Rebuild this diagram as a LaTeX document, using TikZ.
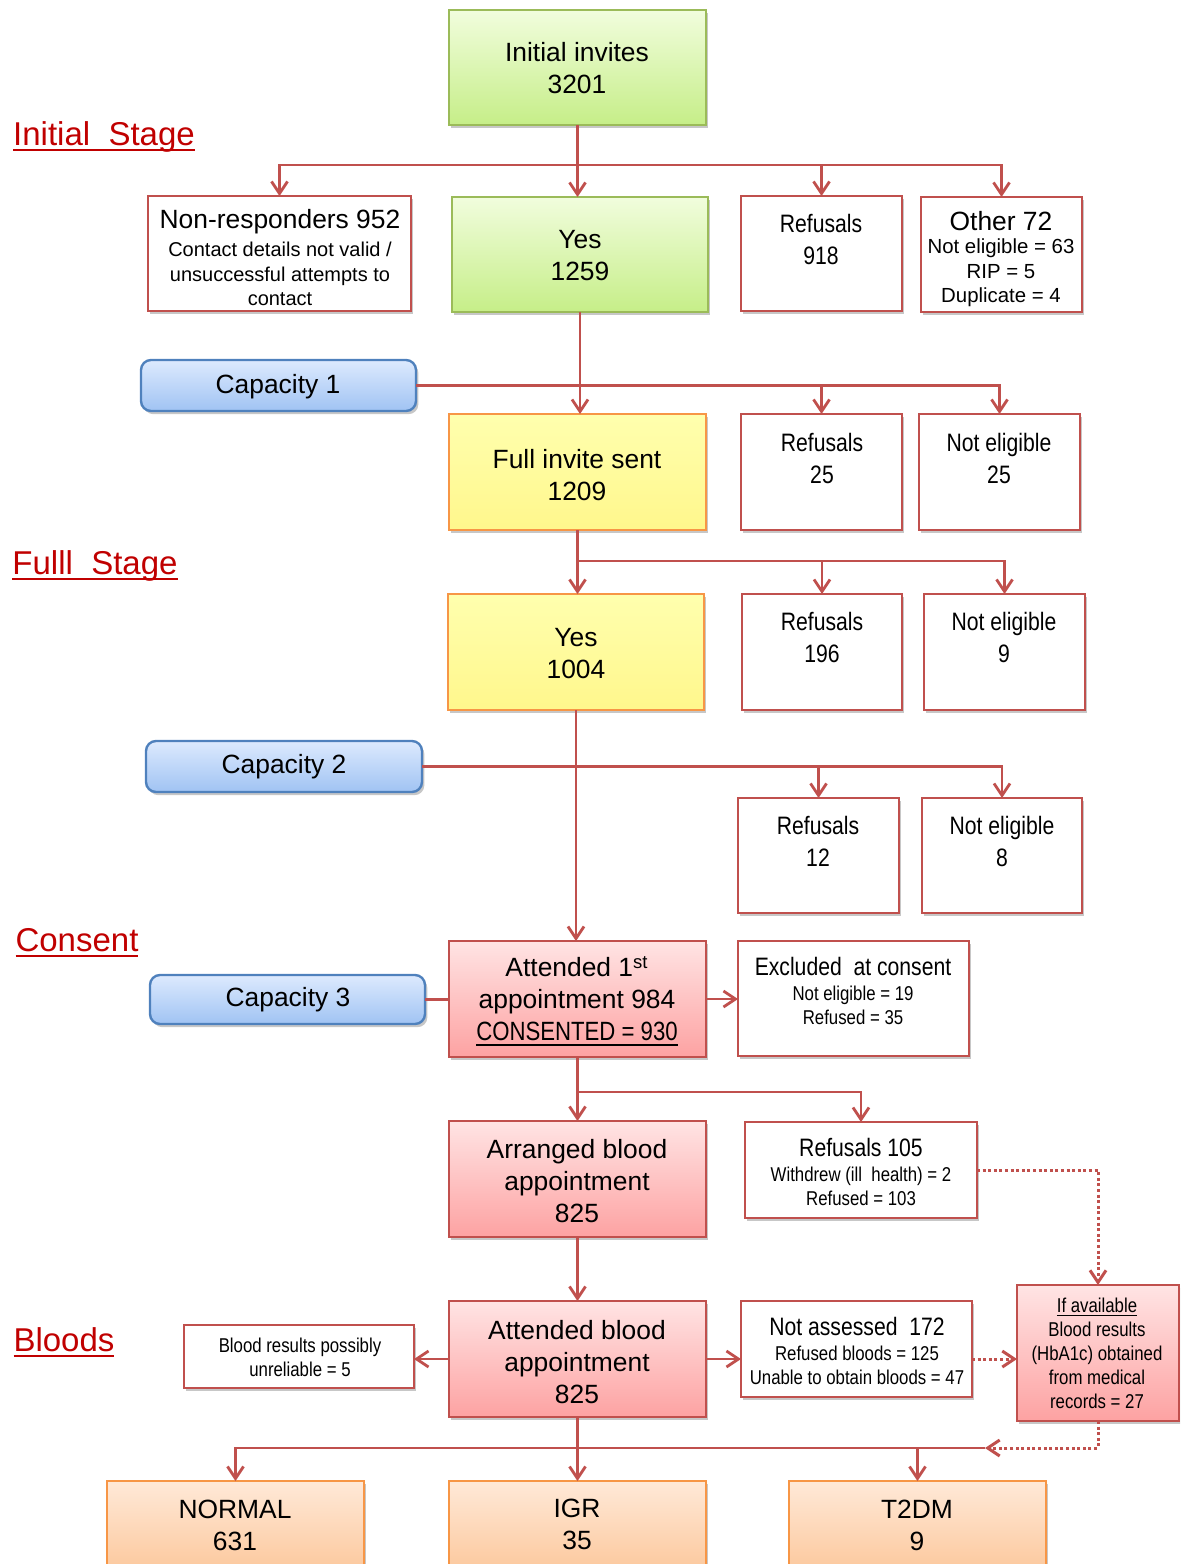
\documentclass[tikz,border=0pt]{standalone}
\usepackage{fontspec}
\setmainfont{Liberation Sans}
\newfontfamily\narrowfont{Liberation Sans}[FakeStretch=0.84]
\usetikzlibrary{arrows.meta,shadows,fit,calc}

% underline with a chosen depth (#1) and thickness (#2)
\newsavebox\ulbox
\newcommand\ulined[3]{\sbox\ulbox{#3}\rlap{\rule[-#1]{\wd\ulbox}{#2}}\usebox\ulbox}

\definecolor{lnred}{HTML}{C0504D}
\definecolor{grnB}{HTML}{9BBB59}
\definecolor{grnT}{HTML}{F1FDDD}
\definecolor{grnD}{HTML}{C6EE88}
\definecolor{yelB}{HTML}{F79646}
\definecolor{yelT}{HTML}{FFFFAE}
\definecolor{yelD}{HTML}{FFF78C}
\definecolor{redT}{HTML}{FFE4E4}
\definecolor{redD}{HTML}{FDA2A2}
\definecolor{bluB}{HTML}{4F81BD}
\definecolor{bluT}{HTML}{DDEAFE}
\definecolor{bluD}{HTML}{A0C3F3}
\definecolor{orgT}{HTML}{FFE9D8}
\definecolor{orgD}{HTML}{FBBE8A}
\definecolor{labred}{HTML}{C00000}

\newcommand\txbig{\fontsize{13.2}{16}\selectfont}
\newcommand\txnbig{\narrowfont\fontsize{12.6}{16}\selectfont}
\newcommand\txsmall{\fontsize{10}{12.2}\selectfont}
\newcommand\txnsmall{\narrowfont\fontsize{10}{12}\selectfont}

\tikzset{
  boxbase/.style={inner sep=0pt, outer sep=0pt, line width=1.2pt,
    drop shadow={shadow xshift=1.2pt, shadow yshift=-1.6pt, opacity=0.22, fill=black}},
  whitebox/.style={boxbase, draw=lnred, fill=white},
  greenbox/.style={boxbase, draw=grnB, top color=grnT, bottom color=grnD},
  yellowbox/.style={boxbase, draw=yelB, top color=yelT, bottom color=yelD},
  redbox/.style={boxbase, draw=lnred, top color=redT, bottom color=redD},
  orangebox/.style={boxbase, draw=yelB, top color=orgT, bottom color=orgD},
  capbox/.style={boxbase, draw=bluB, rounded corners=5pt, top color=bluT, bottom color=bluD},
  tx/.style={inner sep=0pt, align=center, font=\txbig},
  txn/.style={inner sep=0pt, align=center, font=\txnbig},
  txs/.style={inner sep=0pt, align=center, font=\txsmall},
  txns/.style={inner sep=0pt, align=center, font=\txnsmall},
  stagelab/.style={inner sep=0pt, text=labred, font=\fontsize{16.5}{20}\selectfont},
  ln/.style={draw=lnred, line width=1.4pt},
  arr/.style={ln, -{Straight Barb[length=6pt,width=8pt]}},
  dotln/.style={draw=lnred, line width=1.5pt, dash pattern=on 1.5pt off 1.3pt},
  dotarr/.style={dotln, -{Straight Barb[length=6pt,width=8pt]}},
}

\begin{document}
\begin{tikzpicture}[x=0.5pt,y=-0.5pt]
\useasboundingbox (0,0) rectangle (1180,1564);
\clip (0,0) rectangle (1180,1564);

% ---- stage headings
\node[stagelab] (lInit) at (104,137) {\ulined{2.6pt}{1pt}{Initial\ \ Stage}};
\node[stagelab] (lFull) at (95,566) {\ulined{2.6pt}{1pt}{Fulll\ \ Stage}};
\node[stagelab] (lCons) at (77,943) {\ulined{2.6pt}{1pt}{Consent}};
\node[stagelab] (lBlood) at (64,1342) {\ulined{2.6pt}{1pt}{Bloods}};

% ---- initial stage
\node[greenbox, fit={(449,10) (706,125)}] (inv) {};
\node[tx] (t-inv) at (577,68) {Initial invites\\3201};

\node[whitebox, fit={(148,196) (411,311)}] (nonr) {};
\node[tx] (t-nonr) at (280,222) {Non-responders 952};
\node[txs] (t-nonr2) at (280,274) {Contact details not valid /\\unsuccessful attempts to\\contact};

\node[greenbox, fit={(452,197) (708,312)}] (yes1) {};
\node[tx] (t-yes1) at (580,256) {Yes\\1259};

\node[whitebox, fit={(741,196) (902,311)}] (ref1) {};
\node[txn] (t-ref1) at (821,239) {Refusals\\918};

\node[whitebox, fit={(921,197) (1082,312)}] (oth) {};
\node[tx] (t-oth) at (1001,221) {Other 72};
\node[txs, font=\fontsize{10.2}{12.2}\selectfont] (t-oth2) at (1001,273) {Not eligible = 63\\RIP = 5\\Duplicate = 4};

% ---- capacity 1 / full invite
\node[capbox, fit={(141,360) (416,411)}] (cap1) {};
\node[tx] (t-cap1) at (278,387) {Capacity 1};

\node[yellowbox, fit={(449,414) (706,530)}] (full) {};
\node[tx] (t-full) at (577,475) {Full invite sent\\1209};

\node[whitebox, fit={(741,414) (902,530)}] (ref2) {};
\node[txn] (t-ref2) at (822,458) {Refusals\\25};

\node[whitebox, fit={(919,414) (1080,530)}] (ne2) {};
\node[txn] (t-ne2) at (999,458) {Not eligible\\25};

% ---- full stage
\node[yellowbox, fit={(448,594) (704,710)}] (yes2) {};
\node[tx] (t-yes2) at (576,654) {Yes\\1004};

\node[whitebox, fit={(742,594) (902,710)}] (ref3) {};
\node[txn] (t-ref3) at (822,637) {Refusals\\196};

\node[whitebox, fit={(924,594) (1085,710)}] (ne3) {};
\node[txn] (t-ne3) at (1004,637) {Not eligible\\9};

\node[capbox, fit={(146,741) (422,792)}] (cap2) {};
\node[tx] (t-cap2) at (284,767) {Capacity 2};

\node[whitebox, fit={(738,798) (899,913)}] (ref4) {};
\node[txn] (t-ref4) at (818,841) {Refusals\\12};

\node[whitebox, fit={(922,798) (1082,913)}] (ne4) {};
\node[txn] (t-ne4) at (1002,841) {Not eligible\\8};

% ---- consent
\node[redbox, fit={(449,941) (706,1057)}] (att1) {};
\node[tx] (t-att1) at (577,1001) {Attended 1\textsuperscript{st}\\appointment 984\\{\narrowfont\ulined{2.4pt}{0.9pt}{CONSENTED = 930}}};

\node[capbox, fit={(150,975) (425,1024)}] (cap3) {};
\node[tx] (t-cap3) at (288,1000) {Capacity 3};

\node[whitebox, fit={(738,941) (969,1056)}] (excl) {};
\node[txn] (t-excl) at (853,966) {Excluded\ \ at consent};
\node[txns] (t-excl2) at (853,1005) {Not eligible = 19\\Refused = 35};

\node[redbox, fit={(449,1121) (706,1237)}] (arrb) {};
\node[tx] (t-arrb) at (577,1181) {Arranged blood\\appointment\\825};

\node[whitebox, fit={(745,1122) (977,1218)}] (ref5) {};
\node[txn] (t-ref5) at (861,1147) {Refusals 105};
\node[txns] (t-ref52) at (861,1186) {Withdrew (ill\ \ health) = 2\\Refused = 103};

% ---- bloods
\node[redbox, fit={(449,1301) (706,1417)}] (attb) {};
\node[tx] (t-attb) at (577,1362) {Attended blood\\appointment\\825};

\node[whitebox, fit={(184,1325) (414,1388)}] (unrel) {};
\node[txns] (t-unrel) at (300,1357) {Blood results possibly\\unreliable = 5};

\node[whitebox, fit={(741,1301) (972,1397)}] (notas) {};
\node[txn] (t-notas) at (857,1326) {Not assessed\ \ 172};
\node[txns] (t-notas2) at (857,1365) {Refused bloods = 125\\Unable to obtain bloods = 47};

\node[redbox, fit={(1017,1285) (1179,1421)}] (ifav) {};
\node[txns] (t-ifav) at (1097,1353) {\ulined{2pt}{0.7pt}{If available}\\Blood results\\(HbA1c) obtained\\from medical\\records = 27};

\node[orangebox, fit={(107,1481) (364,1600)}] (norm) {};
\node[tx] (t-norm) at (235,1525) {NORMAL\\631};

\node[orangebox, fit={(449,1481) (706,1600)}] (igr) {};
\node[tx] (t-igr) at (577,1524) {IGR\\35};

\node[orangebox, fit={(789,1481) (1046,1600)}] (t2dm) {};
\node[tx] (t-t2dm) at (917,1525) {T2DM\\9};

% ---- junction points
\coordinate (j1) at (inv.south |- 0,165);
\coordinate (j3) at (full.south |- 0,561);
\coordinate (j5) at (att1.south |- 0,1092);
\coordinate (j6) at (attb.south |- 0,1448);
\coordinate (dj) at (985,1448);

% ---- connectors
\draw[ln] (inv.south) -- (j1);
\draw[arr] (j1) -- (inv.south |- yes1.north);
\draw[arr] (j1) -| (nonr.north);
\draw[arr] (j1) -| (ref1.north);
\draw[arr] (j1) -| (oth.north);

\draw[arr] (yes1.south) -- (yes1.south |- full.north);
\draw[arr] (cap1.east) -| (ne2.north);
\draw[arr] (cap1.east -| ref2.north) -- (ref2.north);

\draw[ln] (full.south) -- (j3);
\draw[arr] (j3) -- (full.south |- yes2.north);
\draw[arr] (j3) -| (ref3.north);
\draw[arr] (j3) -| (ne3.north);

\draw[arr] (yes2.south) -- (yes2.south |- att1.north);
\draw[arr] (cap2.east) -| (ne4.north);
\draw[arr] (cap2.east -| ref4.north) -- (ref4.north);

\draw[ln] (cap3.east) -- (cap3.east -| att1.west);
\draw[arr] (att1.east) -- (att1.east -| excl.west);

\draw[ln] (att1.south) -- (j5);
\draw[arr] (j5) -- (att1.south |- arrb.north);
\draw[arr] (j5) -| (ref5.north);
\draw[dotarr] (ref5.east) -| (ifav.north);

\draw[arr] (arrb.south) -- (arrb.south |- attb.north);
\draw[arr] (attb.west) -- (attb.west -| unrel.east);
\draw[arr] (attb.east) -- (attb.east -| notas.west);
\draw[dotarr] (notas.east |- attb.east) -- (ifav.west |- attb.east);

\draw[ln] (attb.south) -- (j6);
\draw[arr] (j6) -- (attb.south |- igr.north);
\draw[arr] (j6) -| (norm.north);
\draw[arr] (j6) -| (t2dm.north);
\draw[ln] (j6) -- (dj);
\draw[dotarr] (ifav.south) |- (dj);
\end{tikzpicture}
\end{document}
